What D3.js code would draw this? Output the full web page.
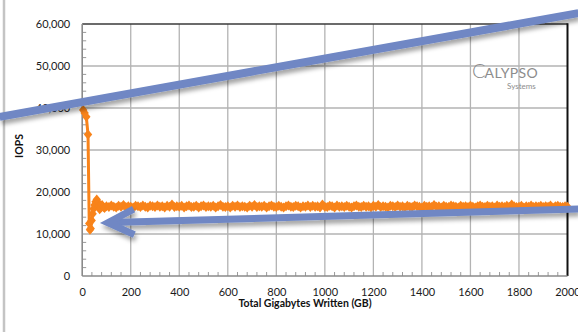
<!DOCTYPE html>
<html>
<head>
<meta charset="utf-8">
<script src="https://cdn.jsdelivr.net/npm/d3@7"></script>
<style>
  body { margin: 0; background: #fff; }
  svg { display: block; font-family: Lato, "Open Sans", sans-serif; }
</style>
</head>
<body>
<svg id="chart" width="578" height="332"></svg>
<script>
// Sustained random-write IOPS versus total data written
const gbWritten = [
  4, 10, 17, 24, 29, 32, 35, 39, 43, 47, 51, 55, 60, 64, 68, 72, 77, 82, 87, 92,
  100, 110, 120, 130, 140, 150, 160, 170, 180, 190,
  200, 210, 220, 230, 240, 250, 260, 270, 280, 290,
  300, 310, 320, 330, 340, 350, 360, 370, 380, 390,
  400, 410, 420, 430, 440, 450, 460, 470, 480, 490,
  500, 510, 520, 530, 540, 550, 560, 570, 580, 590,
  600, 610, 620, 630, 640, 650, 660, 670, 680, 690,
  700, 710, 720, 730, 740, 750, 760, 770, 780, 790,
  800, 810, 820, 830, 840, 850, 860, 870, 880, 890,
  900, 910, 920, 930, 940, 950, 960, 970, 980, 990,
  1000, 1010, 1020, 1030, 1040, 1050, 1060, 1070, 1080, 1090,
  1100, 1110, 1120, 1130, 1140, 1150, 1160, 1170, 1180, 1190,
  1200, 1210, 1220, 1230, 1240, 1250, 1260, 1270, 1280, 1290,
  1300, 1310, 1320, 1330, 1340, 1350, 1360, 1370, 1380, 1390,
  1400, 1410, 1420, 1430, 1440, 1450, 1460, 1470, 1480, 1490,
  1500, 1510, 1520, 1530, 1540, 1550, 1560, 1570, 1580, 1590,
  1600, 1610, 1620, 1630, 1640, 1650, 1660, 1670, 1680, 1690,
  1700, 1710, 1720, 1730, 1740, 1750, 1760, 1770, 1780, 1790,
  1800, 1810, 1820, 1830, 1840, 1850, 1860, 1870, 1880, 1890,
  1900, 1910, 1920, 1930, 1940, 1950, 1960, 1970, 1980, 1990,
  2000
];
const iops = [
  39500, 38800, 37900, 33700, 12500, 11000, 11300, 13200, 14800, 16000,
  16900, 17700, 18200, 17600, 16500, 15900, 16300, 16900, 16400, 16200,
  16600, 16400, 16800, 16500, 16300, 16700, 16500, 16900, 16400, 16600,
  16500, 16300, 16700, 16600, 16400, 16800, 16500, 16300, 16700, 16600,
  16400, 16800, 16500, 16600, 16300, 16700, 16500, 17000, 16400, 16600,
  16500, 16700, 16300, 16600, 16800, 16400, 16500, 16700, 16300, 16600,
  16800, 16400, 16600, 16500, 16700, 16300, 16600, 16900, 16500, 16400,
  16600, 16300, 16700, 16500, 16800, 16400, 16600, 16500, 16300, 16700,
  16500, 16900, 16400, 16600, 16500, 16700, 16300, 16600, 16800, 16500,
  16400, 16700, 16500, 16300, 16600, 16800, 16500, 16400, 16700, 16600,
  16300, 16600, 16500, 16800, 16400, 16700, 16500, 16600, 16300, 17000,
  16500, 16400, 16700, 16600, 16300, 16800, 16500, 16600, 16400, 16700,
  16500, 16300, 16600, 16800, 16500, 16400, 16700, 16500, 16600, 16300,
  16700, 16500, 16900, 16400, 16600, 16500, 16300, 16700, 16600, 16400,
  16800, 16500, 16600, 16300, 16700, 16500, 16400, 16800, 16600, 16500,
  16300, 16700, 16500, 16600, 16400, 16900, 16500, 16600, 16300, 16700,
  16500, 16400, 16800, 16600, 16500, 16300, 16700, 16500, 16600, 16400,
  16700, 16500, 16300, 16600, 16800, 16500, 16400, 16700, 16500, 16600,
  16300, 16800, 16500, 16600, 16400, 16700, 16500, 17000, 16600, 16400,
  16500, 16700, 16300, 16600, 16500, 16800, 16400, 16600, 16500, 16700,
  16400, 16600, 16500, 16800, 16300, 16600, 16700, 16500, 16400, 16600,
  16500
];
const xTicks = [0, 200, 400, 600, 800, 1000, 1200, 1400, 1600, 1800, 2000];
const yTicks = [0, 10000, 20000, 30000, 40000, 50000, 60000];
const xTitle = "Total Gigabytes Written (GB)";
const yTitle = "IOPS";

// Callout arrows, in data units (GB, IOPS)
const trendLine = [[-340, 37900], [2045, 62600]];
const steadyArrow = [[2045, 15950], [106, 12700]];

const svg = d3.select("#chart");
const x = d3.scaleLinear().domain([0, 2000]).range([82.2, 567.5]);
const y = d3.scaleLinear().domain([0, 60000]).range([276, 24]);

const series = gbWritten.map((g, i) => [g, iops[i]]);

// frame line at the far left
svg.append("line").attr("x1", 4).attr("x2", 4).attr("y1", 0).attr("y2", 332)
  .attr("stroke", "#c4c4c4").attr("stroke-width", 2.5);

// gridlines
const grid = svg.append("g");
grid.selectAll(".hg").data(yTicks.filter(d => d > 0 && d < 60000)).join("line")
  .attr("x1", x(0)).attr("x2", x(2000)).attr("y1", d => y(d)).attr("y2", d => y(d))
  .attr("stroke", "#b3b3b3").attr("stroke-width", 1.3);
grid.selectAll(".vg").data(xTicks.filter(d => d > 0 && d < 2000)).join("line")
  .attr("x1", d => x(d)).attr("x2", d => x(d)).attr("y1", y(0)).attr("y2", y(60000))
  .attr("stroke", "#b3b3b3").attr("stroke-width", 1.3);

// minor ticks inside the plot
const yMinor = d3.range(2000, 60000, 2000).filter(d => d % 10000 !== 0);
const xMinor = d3.range(40, 2000, 40).filter(d => d % 200 !== 0);
svg.append("g").selectAll("line").data(yMinor).join("line")
  .attr("x1", x(0)).attr("x2", x(0) + 4).attr("y1", d => y(d)).attr("y2", d => y(d))
  .attr("stroke", "#9a9a9a").attr("stroke-width", 1);
svg.append("g").selectAll("line").data(xMinor).join("line")
  .attr("x1", d => x(d)).attr("x2", d => x(d)).attr("y1", y(0)).attr("y2", y(0) - 4)
  .attr("stroke", "#9a9a9a").attr("stroke-width", 1);

// plot borders
svg.append("line").attr("x1", x(0)).attr("x2", x(2000)).attr("y1", y(60000)).attr("y2", y(60000))
  .attr("stroke", "#3a3a3a").attr("stroke-width", 1.5);
svg.append("line").attr("x1", x(2000)).attr("x2", x(2000)).attr("y1", y(60000) - 0.75).attr("y2", y(0))
  .attr("stroke", "#111").attr("stroke-width", 2);
svg.append("line").attr("x1", x(0)).attr("x2", x(0)).attr("y1", y(60000)).attr("y2", y(0))
  .attr("stroke", "#8a8a8a").attr("stroke-width", 1.6);
svg.append("line").attr("x1", x(0)).attr("x2", x(2000)).attr("y1", y(0)).attr("y2", y(0))
  .attr("stroke", "#8a8a8a").attr("stroke-width", 1.6);

// axes labels
const yAxis = svg.append("g").attr("transform", `translate(${x(0)},0)`)
  .call(d3.axisLeft(y).tickValues(yTicks).tickFormat(d3.format(",")).tickSize(0).tickPadding(12));
const xAxis = svg.append("g").attr("transform", `translate(0,${y(0)})`)
  .call(d3.axisBottom(x).tickValues(xTicks).tickFormat(d3.format("d")).tickSize(0).tickPadding(12));
[yAxis, xAxis].forEach(a => {
  a.select(".domain").remove();
  a.selectAll("text").attr("font-size", 11).attr("fill", "#1a1a1a")
    .attr("font-family", "Lato, 'Open Sans', sans-serif");
});

svg.append("text").attr("x", 305).attr("y", 307).attr("text-anchor", "middle")
  .attr("font-size", 10.5).attr("font-weight", "bold").attr("fill", "#111").text(xTitle);
svg.append("text").attr("transform", "translate(23,146) rotate(-90)").attr("text-anchor", "middle")
  .attr("font-size", 10.5).attr("font-weight", "bold").attr("fill", "#111").text(yTitle);

// logo
const logo = svg.append("text").attr("x", 472).attr("y", 78).attr("fill", "#8c8c8c");
logo.append("tspan").attr("font-size", 20).attr("font-weight", 300).text("C");
logo.append("tspan").attr("font-size", 14).attr("letter-spacing", 0.4).attr("dx", -1).text("ALYPSO");
svg.append("text").attr("x", 507).attr("y", 89).attr("fill", "#8c8c8c")
  .attr("font-size", 8).text("Systems");

// IOPS series
const orange = "#f8831a";
svg.append("path").datum(series)
  .attr("d", d3.line().x(d => x(d[0])).y(d => y(d[1])))
  .attr("fill", "none").attr("stroke", orange).attr("stroke-width", 3)
  .attr("stroke-linejoin", "round");
svg.append("g").selectAll("path").data(series).join("path")
  .attr("transform", d => `translate(${x(d[0])},${y(d[1])})`)
  .attr("d", "M0,-5L4.2,0L0,5L-4.2,0Z")
  .attr("fill", orange);

// callouts
const defs = svg.append("defs");
const f = defs.append("filter").attr("id", "shadow")
  .attr("x", "-10%").attr("y", "-50%").attr("width", "120%").attr("height", "300%");
f.append("feDropShadow").attr("dx", 1.5).attr("dy", 4).attr("stdDeviation", 2.2)
  .attr("flood-color", "#000").attr("flood-opacity", 0.35);

const blue = "#6f87c4";
const callouts = svg.append("g").attr("filter", "url(#shadow)");
callouts.append("line")
  .attr("x1", x(trendLine[0][0])).attr("y1", y(trendLine[0][1]))
  .attr("x2", x(trendLine[1][0])).attr("y2", y(trendLine[1][1]))
  .attr("stroke", blue).attr("stroke-width", 8);

const tail = [x(steadyArrow[0][0]), y(steadyArrow[0][1])];
const tip = [x(steadyArrow[1][0]), y(steadyArrow[1][1])];
const ang = Math.atan2(tail[1] - tip[1], tail[0] - tip[0]);
const armLen = 29, spread = 26 * Math.PI / 180;
const armA = [tip[0] + armLen * Math.cos(ang - spread), tip[1] + armLen * Math.sin(ang - spread)];
const armB = [tip[0] + armLen * Math.cos(ang + spread), tip[1] + armLen * Math.sin(ang + spread)];
callouts.append("path")
  .attr("d", `M${tail[0]},${tail[1]}L${tip[0] + 3 * Math.cos(ang)},${tip[1] + 3 * Math.sin(ang)}`)
  .attr("stroke", blue).attr("stroke-width", 7).attr("fill", "none");
callouts.append("path")
  .attr("d", `M${armA[0]},${armA[1]}L${tip[0]},${tip[1]}L${armB[0]},${armB[1]}`)
  .attr("stroke", blue).attr("stroke-width", 7).attr("fill", "none")
  .attr("stroke-linejoin", "miter").attr("stroke-miterlimit", 10);
</script>
</body>
</html>
